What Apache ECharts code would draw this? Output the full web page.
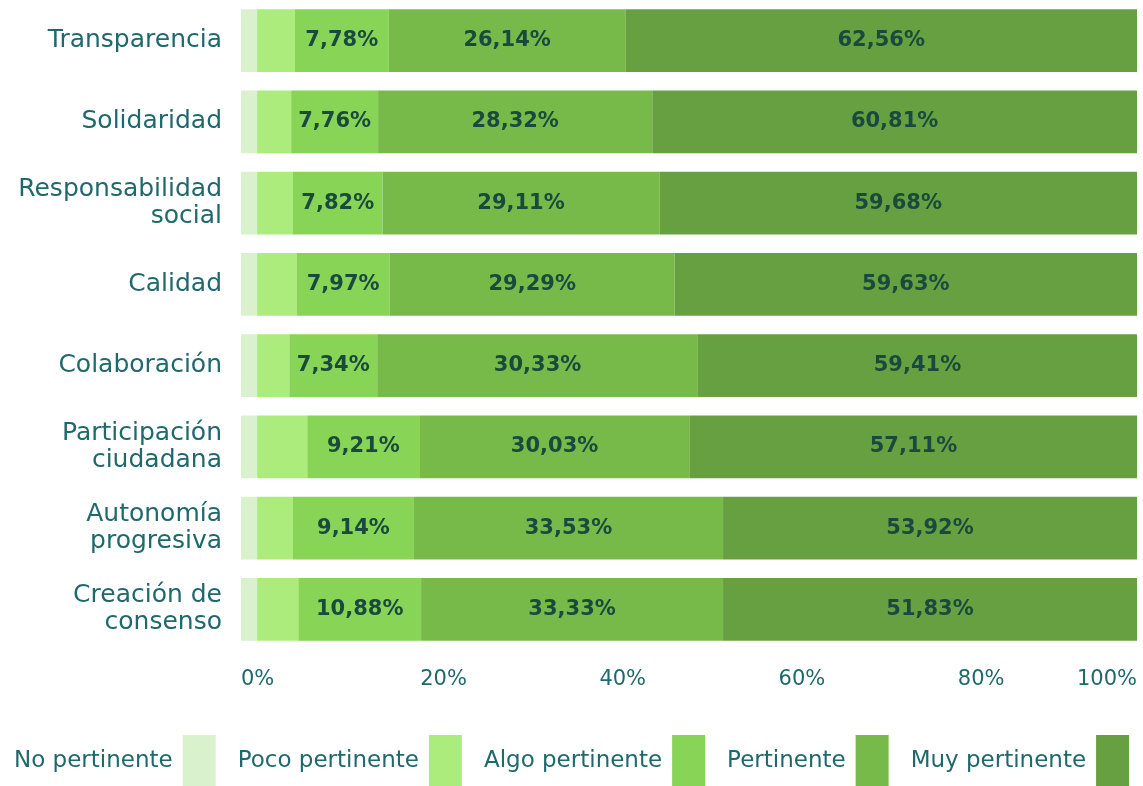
<!DOCTYPE html>
<html>
<head>
<meta charset="utf-8">
<script src="https://cdn.jsdelivr.net/npm/echarts@6/dist/echarts.min.js"></script>
<style>
  html, body { margin: 0; padding: 0; background: #fff; }
  #main { width: 1143px; height: 786px; }
</style>
</head>
<body>
<div id="main"></div>
<script>
// categories, top to bottom
const categories = [
  'Transparencia',
  'Solidaridad',
  'Responsabilidad\nsocial',
  'Calidad',
  'Colaboración',
  'Participación\nciudadana',
  'Autonomía\nprogresiva',
  'Creación de\nconsenso'
];
const seriesNames = ['No pertinente', 'Poco pertinente', 'Algo pertinente', 'Pertinente', 'Muy pertinente'];

// segment lengths as drawn (% of bar)
const noPertinente   = [1.8, 1.8, 1.8, 1.8, 1.8, 1.8, 1.8, 1.8];
const pocoPertinente = [4.2, 3.8, 4.0, 4.4, 3.6, 5.6, 4.0, 4.6];
const algoPertinente = [10.5, 9.7, 10.0, 10.4, 9.8, 12.5, 13.5, 13.7];
const pertinente     = [26.4, 30.6, 30.9, 31.8, 35.8, 30.2, 34.5, 33.7];
const muyPertinente  = [57.1, 54.1, 53.3, 51.6, 49.0, 49.9, 46.2, 46.2];

// printed labels
const algoLabels = ['7,78%', '7,76%', '7,82%', '7,97%', '7,34%', '9,21%', '9,14%', '10,88%'];
const pertLabels = ['26,14%', '28,32%', '29,11%', '29,29%', '30,33%', '30,03%', '33,53%', '33,33%'];
const muyLabels  = ['62,56%', '60,81%', '59,68%', '59,63%', '59,41%', '57,11%', '53,92%', '51,83%'];

const colors = ['#d9f1cc', '#abec7c', '#88d456', '#78ba4a', '#67a040'];
const FONT = 'DejaVu Sans';
const textColor = '#1f696c';

const myChart = echarts.init(document.getElementById('main'));

function makeSeries(name, data, labels) {
    const s = {
        name: name,
        type: 'bar',
        stack: 'total',
        barCategoryGap: '23%',
        data: data,
        label: { show: false }
    };
    if (labels) {
        s.label = {
            show: true,
            position: 'inside',
            fontFamily: FONT,
            fontWeight: 'bold',
            fontSize: 21,
            color: '#1a4a3d',
            formatter: p => labels[p.dataIndex]
        };
    }
    return s;
}

myChart.setOption({
    color: colors,
    animation: false,
    textStyle: { fontFamily: FONT },
    grid: { left: 241, right: 6, top: 0, bottom: 136, containLabel: false },
    legend: {
        top: 735,
        left: 14,
        width: 1143,
        padding: 0,
        align: 'right',
        icon: 'rect',
        itemWidth: 33,
        itemHeight: 52,
        itemGap: 22,
        data: seriesNames,
        textStyle: {
            fontFamily: FONT,
            fontSize: 23,
            color: textColor,
            padding: [0, 5, 0, 0]
        }
    },
    xAxis: {
        type: 'value',
        min: 0,
        max: 100,
        interval: 20,
        axisLine: { show: false },
        axisTick: { show: false },
        splitLine: { show: false },
        axisLabel: {
            formatter: '{value}%',
            fontFamily: FONT,
            fontSize: 21,
            color: textColor,
            margin: 19,
            align: 'left',
            alignMaxLabel: 'right'
        }
    },
    yAxis: {
        type: 'category',
        inverse: true,
        data: categories,
        axisLine: { show: false },
        axisTick: { show: false },
        axisLabel: {
            fontFamily: FONT,
            fontSize: 25,
            lineHeight: 27,
            color: textColor,
            margin: 19
        }
    },
    series: [
        makeSeries(seriesNames[0], noPertinente),
        makeSeries(seriesNames[1], pocoPertinente),
        makeSeries(seriesNames[2], algoPertinente, algoLabels),
        makeSeries(seriesNames[3], pertinente, pertLabels),
        makeSeries(seriesNames[4], muyPertinente, muyLabels)
    ]
});
</script>
</body>
</html>
